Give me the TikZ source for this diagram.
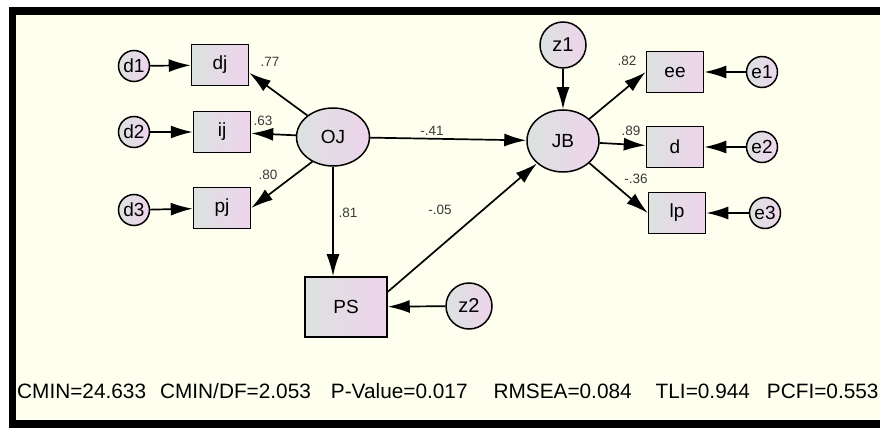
\documentclass[tikz,border=0pt]{standalone}
\usepackage{fontspec}
\setmainfont{Liberation Sans}
\usetikzlibrary{arrows.meta,shapes.geometric}

\definecolor{paper}{HTML}{FFFFF0}
\definecolor{shadeL}{HTML}{DCE2DF}
\definecolor{shadeR}{HTML}{EED4EC}
\definecolor{coef}{HTML}{3A3A3A}

\begin{document}
\begin{tikzpicture}[x=1pt,y=-1pt,
	obs/.style={draw, line width=1.5pt, left color=shadeL, right color=shadeR,
		minimum width=57pt, minimum height=41pt, inner sep=0pt, font=\fontsize{19}{19}\selectfont},
	lat/.style={draw, ellipse, line width=1.5pt, left color=shadeL, right color=shadeR,
		inner sep=0pt, font=\fontsize{19}{19}\selectfont},
	err/.style={draw, circle, line width=1.5pt, left color=shadeL, right color=shadeR,
		minimum size=31pt, inner sep=0pt, font=\fontsize{19}{19}\selectfont},
	dist/.style={err, minimum size=46pt, font=\fontsize{20}{20}\selectfont},
	coefl/.style={text=coef, inner sep=0pt, font=\fontsize{13.5}{13.5}\selectfont},
	arr/.style={line width=1.7pt, -{Latex[length=22pt,width=13pt]}}]
	\useasboundingbox (0,0) rectangle (880,430);
	% frame
	\draw[line width=7.5pt, fill=paper] (12.5,11) rectangle (905,424);

	% left block
	\node[lat, minimum width=73pt, minimum height=58pt] (OJ) at (333,137) {OJ};
	\node[obs] (dj) at (220,65) {dj};
	\node[obs] (ij) at (222,132) {ij};
	\node[obs] (pj) at (222,208) {pj};
	\node[err] (d1) at (134,66) {d1};
	\node[err] (d2) at (134,132) {d2};
	\node[err] (d3) at (134,210) {d3};
	\node[obs, minimum width=82pt, minimum height=60pt] (PS) at (346,307) {PS};
	\node[dist] (z2) at (469,306) {z2};

	% right block
	\node[lat, minimum width=72pt, minimum height=62pt] (JB) at (563,141) {JB};
	\node[dist] (z1) at (563,45) {z1};
	\node[obs] (ee) at (675,72) {ee};
	\node[obs] (d) at (675,147) {d};
	\node[obs] (lp) at (677,213) {lp};
	\node[err] (e1) at (762,72) {e1};
	\node[err] (e2) at (762,147) {e2};
	\node[err] (e3) at (765,213) {e3};

	% paths
	\draw[arr] (d1) -- (dj);
	\draw[arr] (d2) -- (ij);
	\draw[arr] (d3) -- (pj);
	\draw[arr] (OJ.140) -- (dj.-15);
	\draw[arr] (OJ) -- (ij);
	\draw[arr] (OJ.230) -- (pj.east);
	\draw[arr] (OJ) -- (JB);
	\draw[arr] (OJ.south) -- (OJ.south |- PS.north);
	\draw[arr] (PS.20) -- (JB);
	\draw[arr] (z2) -- (PS);
	\draw[arr] (z1) -- (JB);
	\draw[arr] (JB.40) -- (ee.west);
	\draw[arr] (JB) -- (d);
	\draw[arr] (JB.-40) -- (lp.west);
	\draw[arr] (e1) -- (ee);
	\draw[arr] (e2) -- (d);
	\draw[arr] (e3) -- (lp);

	% estimates
	\node[coefl] (cdj) at (270,62) {.77};
	\node[coefl] (cij) at (263,121) {.63};
	\node[coefl] (cpj) at (268,175) {.80};
	\node[coefl] (cJB) at (432,131) {-.41};
	\node[coefl] (cPS) at (348,213) {.81};
	\node[coefl] (cPJ) at (440,210) {-.05};
	\node[coefl] (cee) at (627,61) {.82};
	\node[coefl] (cd) at (631,131) {.89};
	\node[coefl] (clp) at (636,179) {-.36};

	% fit indices
	\node[anchor=base west, inner sep=0pt, font=\fontsize{20.8}{20.8}\selectfont] (fit) at (17,398)
		{CMIN=24.633\hspace{14pt}CMIN/DF=2.053\hspace{20pt}P-Value=0.017\hspace{26pt}RMSEA=0.084\hspace{24pt}TLI=0.944\hspace{17pt}PCFI=0.553};
\end{tikzpicture}
\end{document}
